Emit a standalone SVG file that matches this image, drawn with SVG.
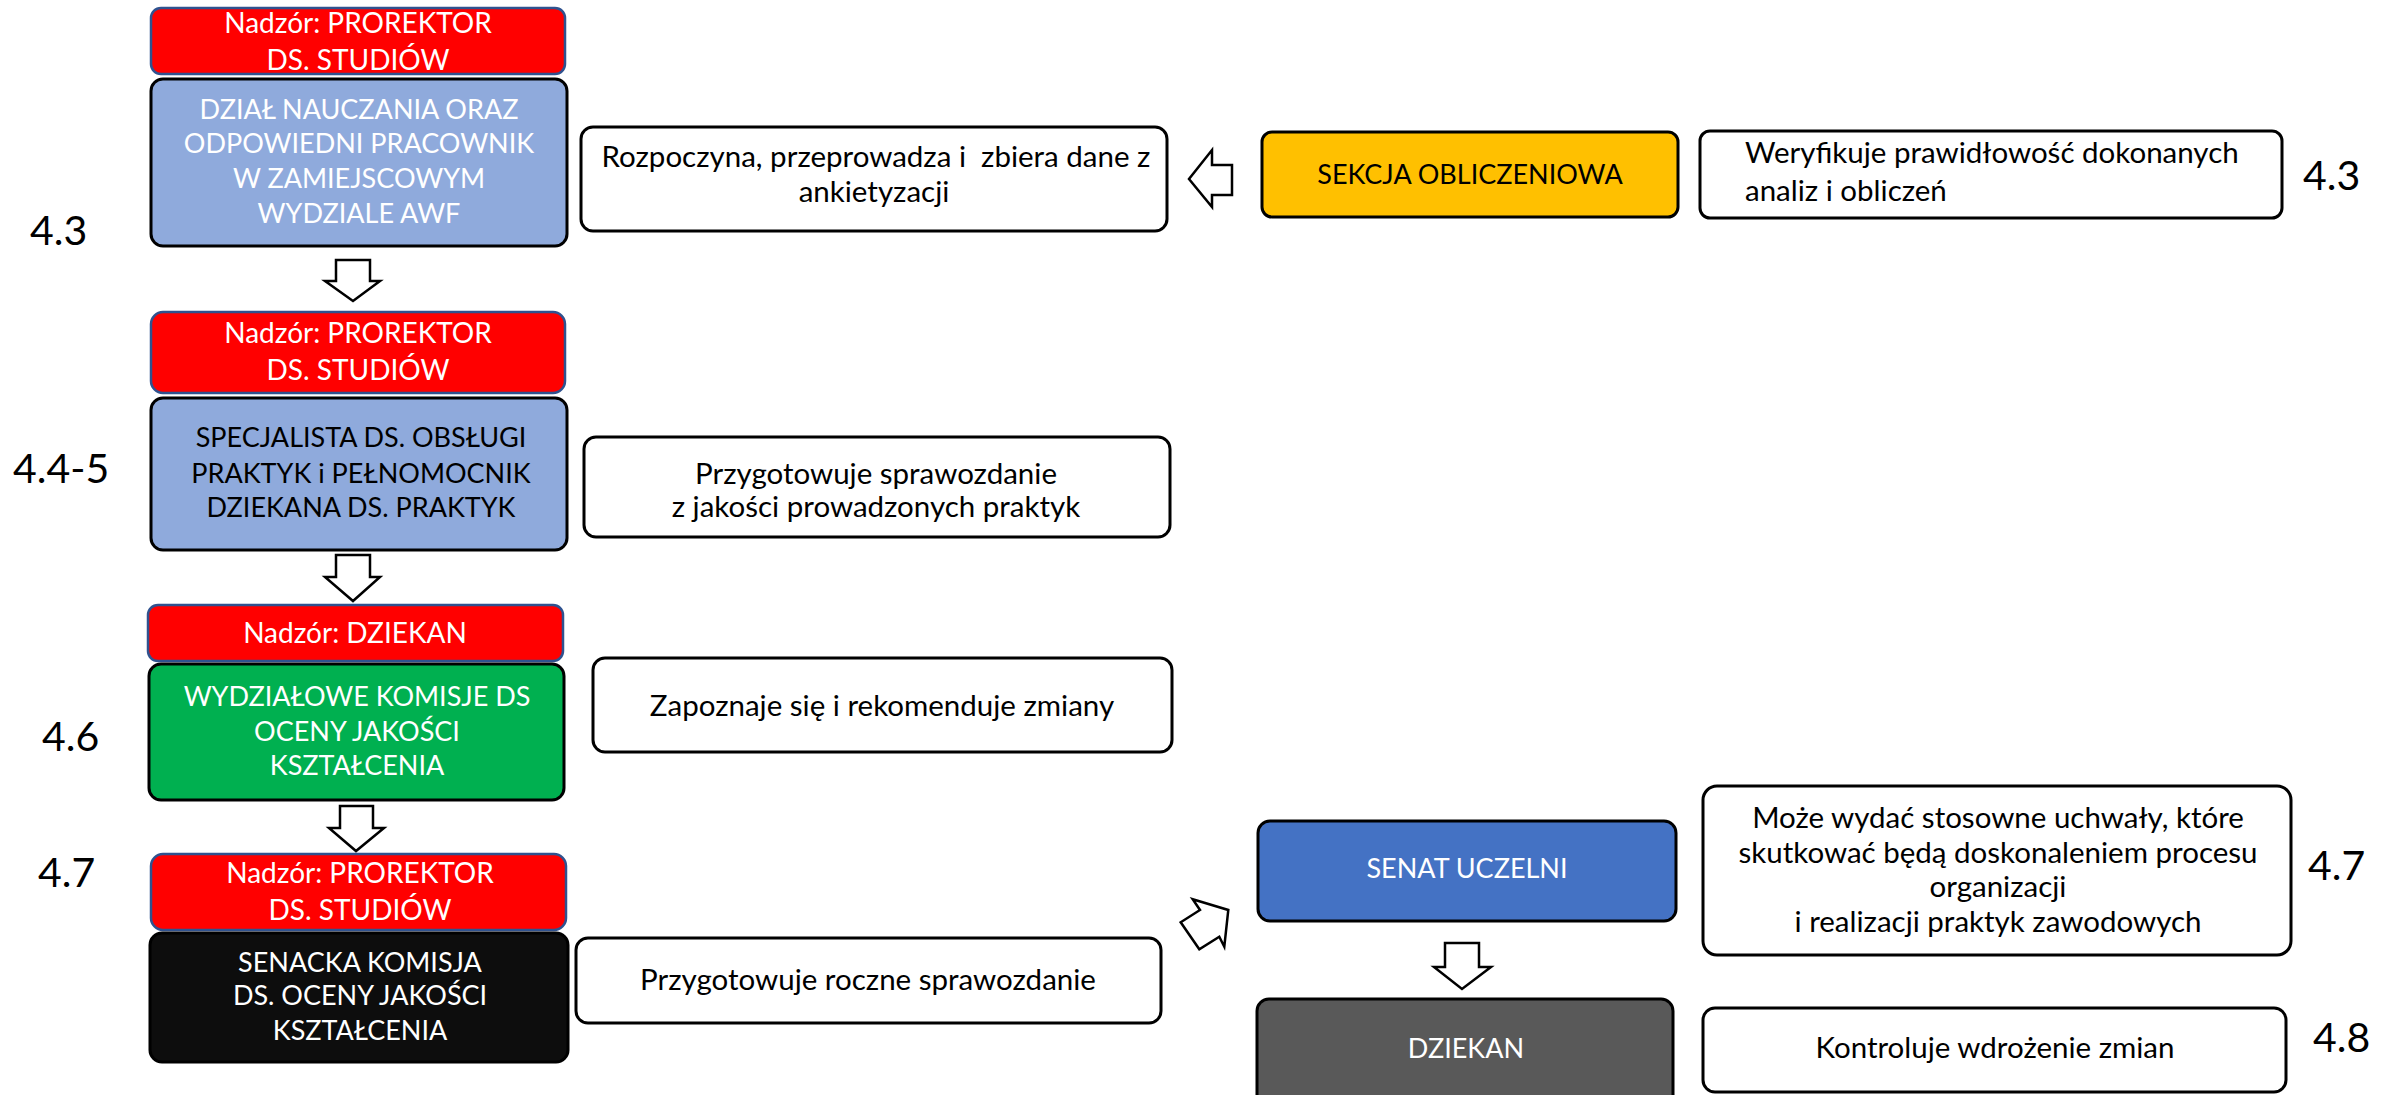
<svg xmlns="http://www.w3.org/2000/svg" width="2395" height="1095" viewBox="0 0 2395 1095">
<style>
text{font-family:Lato,"Liberation Sans",sans-serif;font-size:27px;text-anchor:middle}
.w{fill:#fff}
.k{fill:#000}
.t{font-size:29.5px}
.sup{font-size:28px}
.num{font-size:41px;text-anchor:start;fill:#000}
.l{text-anchor:start}
.pre{white-space:pre}
.red{fill:#ff0000;stroke:#2f528f;stroke-width:2.5}
.box{stroke:#000;stroke-width:3}
.wb{fill:#fff;stroke:#000;stroke-width:3}
.arr{fill:#fff;stroke:#000;stroke-width:2.5;stroke-linejoin:miter}
</style>
<rect width="2395" height="1095" fill="#fff"/>

<g id="sup1"><rect class="red" x="151" y="8" width="414" height="66" rx="10"/>
<text class="w sup" x="358" y="33">Nadzór: PROREKTOR</text><text class="w sup" x="358" y="70">DS. STUDIÓW</text></g>
<g id="dzial"><rect class="box" fill="#8faadc" x="151" y="79" width="416" height="167" rx="12"/>
<text class="w" x="359" y="119">DZIAŁ NAUCZANIA ORAZ</text><text class="w" x="359" y="153">ODPOWIEDNI PRACOWNIK</text><text class="w" x="359" y="188">W ZAMIEJSCOWYM</text><text class="w" x="359" y="223">WYDZIALE AWF</text></g>

<g id="sup2"><rect class="red" x="151" y="312" width="414" height="81" rx="12"/>
<text class="w sup" x="358" y="343">Nadzór: PROREKTOR</text><text class="w sup" x="358" y="380">DS. STUDIÓW</text></g>
<g id="spec"><rect class="box" fill="#8faadc" x="151" y="398" width="416" height="152" rx="12"/>
<text class="k" x="361" y="447">SPECJALISTA DS. OBSŁUGI</text><text class="k" x="361" y="483">PRAKTYK i PEŁNOMOCNIK</text><text class="k" x="361" y="517">DZIEKANA DS. PRAKTYK</text></g>

<g id="sup3"><rect class="red" x="148" y="605" width="415" height="56" rx="10"/>
<text class="w sup" x="355" y="643">Nadzór: DZIEKAN</text></g>
<g id="wydz"><rect class="box" fill="#00b050" x="149" y="664" width="415" height="136" rx="12"/>
<text class="w" x="357" y="706">WYDZIAŁOWE KOMISJE DS</text><text class="w" x="357" y="741">OCENY JAKOŚCI</text><text class="w" x="357" y="775">KSZTAŁCENIA</text></g>

<g id="sup4"><rect class="red" x="151" y="854" width="415" height="76" rx="12"/>
<text class="w sup" x="360" y="883">Nadzór: PROREKTOR</text><text class="w sup" x="360" y="920">DS. STUDIÓW</text></g>
<g id="senacka"><rect class="box" fill="#0d0d0d" x="150" y="933" width="418" height="129" rx="12"/>
<text class="w" x="360" y="972">SENACKA KOMISJA</text><text class="w" x="360" y="1005">DS. OCENY JAKOŚCI</text><text class="w" x="360" y="1040">KSZTAŁCENIA</text></g>

<g id="rozp"><rect class="wb" x="581" y="127" width="586" height="104" rx="12"/>
<text class="k t pre" x="876" y="167">Rozpoczyna, przeprowadza i  zbiera dane z</text><text class="k t" x="874" y="202">ankietyzacji</text></g>
<g id="sekcja"><rect class="box" fill="#ffc000" x="1262" y="132" width="416" height="85" rx="10"/>
<text class="k" x="1470" y="184">SEKCJA OBLICZENIOWA</text></g>
<g id="weryf"><rect class="wb" x="1700" y="131" width="582" height="87" rx="10"/>
<text class="k t l" x="1745" y="163">Weryfikuje prawidłowość dokonanych</text><text class="k t l" x="1745" y="201">analiz i obliczeń</text></g>

<g id="przyg"><rect class="wb" x="584" y="437" width="586" height="100" rx="12"/>
<text class="k t" x="876" y="484">Przygotowuje sprawozdanie</text><text class="k t" x="876" y="517">z jakości prowadzonych praktyk</text></g>
<g id="zapozn"><rect class="wb" x="593" y="658" width="579" height="94" rx="12"/>
<text class="k t" x="882" y="716">Zapoznaje się i rekomenduje zmiany</text></g>
<g id="roczne"><rect class="wb" x="576" y="938" width="585" height="85" rx="12"/>
<text class="k t" x="868" y="990">Przygotowuje roczne sprawozdanie</text></g>

<g id="senat"><rect class="box" fill="#4472c4" x="1258" y="821" width="418" height="100" rx="12"/>
<text class="w" x="1467" y="878">SENAT UCZELNI</text></g>
<g id="dziekan"><rect class="box" fill="#595959" x="1257" y="999" width="416" height="110" rx="12"/>
<text class="w" x="1466" y="1058" font-size="26">DZIEKAN</text></g>
<g id="moze"><rect class="wb" x="1703" y="786" width="588" height="169" rx="14"/>
<text class="k t" x="1998" y="828">Może wydać stosowne uchwały, które</text><text class="k t" x="1998" y="863">skutkować będą doskonaleniem procesu</text><text class="k t" x="1998" y="897">organizacji</text><text class="k t" x="1998" y="932">i realizacji praktyk zawodowych</text></g>
<g id="kontr"><rect class="wb" x="1703" y="1008" width="583" height="84" rx="12"/>
<text class="k t" x="1995" y="1058">Kontroluje wdrożenie zmian</text></g>

<g id="labels">
<text class="num" x="30" y="245">4.3</text>
<text class="num" x="13" y="483">4.4-5</text>
<text class="num" x="42" y="751">4.6</text>
<text class="num" x="38" y="887">4.7</text>
<text class="num" x="2303" y="190">4.3</text>
<text class="num" x="2308" y="880">4.7</text>
<text class="num" x="2313" y="1052">4.8</text>
</g>

<g id="connectors">
<polygon class="arr" points="336,260 370,260 370,281 380,281 353,301 325,281 336,281"/>
<polygon class="arr" points="336,555 370,555 370,577 380,577 353,601 325,577 336,577"/>
<polygon class="arr" points="340,806 373,806 373,828 384,828 356,851 329,828 340,828"/>
<polygon class="arr" points="1232,165 1232,195 1212,195 1212,207 1189,179 1212,150 1212,165"/>
<polygon class="arr" points="1445,943 1479,943 1479,967 1491,967 1462,989 1434,967 1445,967"/>
<polygon class="arr" points="1192.7,899.3 1228.3,910 1224.3,946.7 1219.3,936.7 1199.3,949.3 1180.7,922.3 1200,910"/>
</g>
</svg>
